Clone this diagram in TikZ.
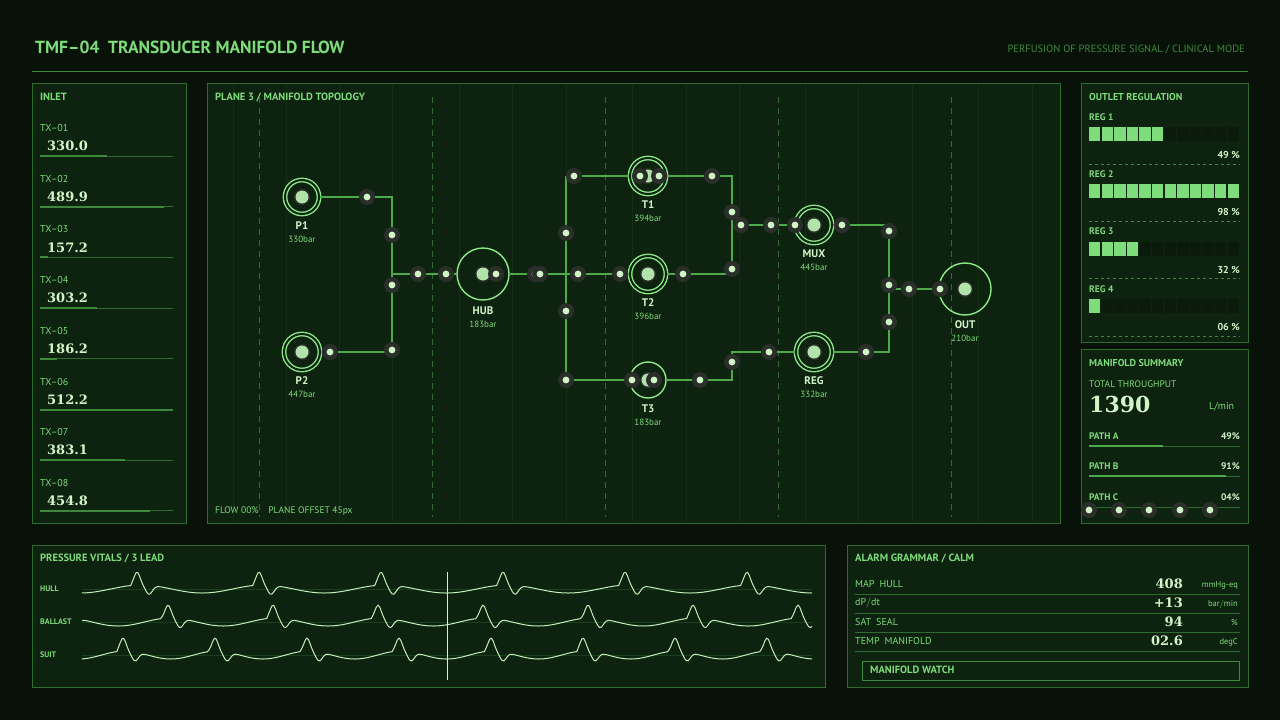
\documentclass[tikz,border=0pt]{standalone}
\usepackage{fontspec}
\setmainfont{PT Sans}
\newfontfamily\valfont{DejaVu Serif}
\usetikzlibrary{positioning,calc}

\definecolor{bgdark}{HTML}{081208}
\definecolor{panelfill}{HTML}{0E2210}
\definecolor{panelline}{HTML}{2F6A2F}
\definecolor{txtgreen}{HTML}{7EDC7A}
\definecolor{dimgreen}{HTML}{3F8A3F}
\definecolor{palegreen}{HTML}{D2F5C8}
\definecolor{wiregreen}{HTML}{4DAA4A}
\definecolor{ringgreen}{HTML}{8BEA86}
\definecolor{halo}{HTML}{2A2F2A}
\definecolor{cellon}{HTML}{7EDC7A}
\definecolor{celloff}{HTML}{0A1A0B}

\tikzset{
  panel/.style={draw=panelline, fill=panelfill, line width=1pt},
  hdr/.style={anchor=west, inner sep=0pt, text=txtgreen, font=\bfseries\fontsize{10.5}{10.5}\selectfont},
  lbl/.style={anchor=west, inner sep=0pt, text=txtgreen, font=\fontsize{10}{10}\selectfont},
  val/.style={anchor=west, inner sep=0pt, text=palegreen, font=\valfont\bfseries\fontsize{13}{13}\selectfont},
  wire/.style={draw=wiregreen, line width=1.3pt},
  dnode/.style={circle, draw=ringgreen, line width=1.4pt, double=panelfill, double distance=2pt, minimum size=#1, inner sep=0pt},
  snode/.style={circle, draw=ringgreen, line width=1.4pt, minimum size=#1, inner sep=0pt},
  nname/.style={text=palegreen, inner sep=0pt, font=\bfseries\fontsize{11}{11}\selectfont},
  nval/.style={text=txtgreen, inner sep=0pt, font=\fontsize{9}{9}\selectfont},
}
\newcommand{\core}[1]{\fill[halo] (#1) circle (8); \fill[palegreen!75!wiregreen] (#1) circle (6.5);}
\newcommand{\tap}[1]{\fill[halo] (#1) circle (8); \fill[palegreen] (#1) circle (3.4);}

\begin{document}
\begin{tikzpicture}[x=1pt,y=-1pt]
\fill[bgdark] (0,0) rectangle (1280,720);
\useasboundingbox (0,0) rectangle (1280,720);

% Header
\node[anchor=west, inner sep=0pt, text=txtgreen, font=\bfseries\fontsize{17.5}{17.5}\selectfont] (title) at (35,47) {TMF--04\enspace TRANSDUCER MANIFOLD FLOW};
\node[anchor=east, inner sep=0pt, text=dimgreen, font=\fontsize{10.5}{10.5}\selectfont] (mode) at (1245,49) {PERFUSION OF PRESSURE SIGNAL / CLINICAL MODE};
\draw[dimgreen, line width=0.8pt] (32,71) -- (1248,71);

% Inlet panel
\draw[panel] (32,83) rectangle (186,523);
\node[hdr] (inlet) at (40,97) {INLET};
\foreach \k/\v/\f in {1/330.0/0.50, 2/489.9/0.93, 3/157.2/0.06, 4/303.2/0.43, 5/186.2/0.13, 6/512.2/1.0, 7/383.1/0.64, 8/454.8/0.83}{
  \pgfmathsetmacro{\yy}{128+50.7*(\k-1)}
  \node[lbl] at (40,\yy) {TX--0\k};
  \node[val] at (47,\yy+18) {\v};
  \draw[panelline, line width=1pt] (40,\yy+28) -- (173,\yy+28);
  \draw[wiregreen!80!black, line width=2pt] (40,\yy+28) -- ({40+133*\f},\yy+28);
}

% Topology panel
\draw[panel] (207,83) rectangle (1060,523);
\foreach \gx in {233,286,339,392,459,512,566,632,686,739,805,858,912,978,1032}
  \draw[panelline!18!panelfill, line width=0.5pt] (\gx,84) -- (\gx,522);
\foreach \gx in {259,432,605,778,951}
  \draw[dimgreen!70!panelfill, dash pattern=on 6pt off 5pt, line width=0.8pt] (\gx,97) -- (\gx,517);
\node[hdr] (plane) at (215,97) {PLANE 3 / MANIFOLD TOPOLOGY};
\node[lbl, font=\fontsize{9.5}{9.5}\selectfont] (foot) at (215,511) {FLOW 00\%\quad PLANE OFFSET 45px};

% junctions
\coordinate (j1a) at (392,197); \coordinate (j1b) at (392,352); \coordinate (j1) at (392,274);
\coordinate (bt) at (566,176); \coordinate (bm) at (566,274); \coordinate (bb) at (566,380);
\coordinate (k1a) at (732,176); \coordinate (k1b) at (732,274); \coordinate (k1) at (732,225);
\coordinate (k2a) at (732,380); \coordinate (k2b) at (732,352);
\coordinate (m1a) at (889,225); \coordinate (m1b) at (889,352); \coordinate (m1) at (889,289);

% main nodes
\node[dnode=34pt] (p1) at (302,197) {};
\node[dnode=36pt] (p2) at (302,352) {};
\node[snode=52pt] (hub) at (483,274) {};
\node[dnode=36pt] (t1) at (648,176) {};
\node[dnode=36pt] (t2) at (648,274) {};
\node[snode=36pt] (t3) at (648,380) {};
\node[dnode=36pt] (mux) at (814,225) {};
\node[dnode=36pt] (reg) at (814,352) {};
\node[snode=52pt] (out) at (965,289) {};

% wires
\draw[wire] (p1) -- (j1a) -- (j1b) -- (p2);
\draw[wire] (j1) -- (hub) -- (bm);
\draw[wire] (bt) -- (bb);
\draw[wire] (bt) -- (t1) -- (k1a) -- (k1b) -- (t2) -- (bm);
\draw[wire] (bb) -- (t3) -- (k2a) -- (k2b) -- (reg) -- (m1b) -- (m1a) -- (mux) -- (k1);
\draw[wire] (m1) -- (out);

% cores
\foreach \n in {p1,p2,hub,t1,t2,t3,mux,reg,out}{\core{\n.center}}

% taps
\foreach \tx/\ty in {367/197,392/235,392/285,392/350,330/352,418/274,446/274,496/274,535/274,540/274,
  578/274,566/233,566/311,566/380,574/176,640/176,659/176,712/176,732/212,732/269,620/274,683/274,
  741/225,771/225,795/225,842/225,889/231,889/285,889/322,909/289,940/289,866/352,769/352,732/362,
  700/380,632/380,654/380}{\tap{\tx,\ty}}

% node labels
\foreach \n/\t/\v/\d in {p1/P1/330bar/29, p2/P2/447bar/29, hub/HUB/183bar/37, t1/T1/394bar/29, t2/T2/396bar/29,
  t3/T3/183bar/29, mux/MUX/445bar/29, reg/REG/332bar/29, out/OUT/210bar/36}{
  \node[nname] at ($(\n.center)+(0,\d)$) {\t};
  \node[nval] at ($(\n.center)+(0,\d+13)$) {\v};
}

% Outlet regulation
\draw[panel] (1081,83) rectangle (1248,342);
\node[hdr, font=\bfseries\fontsize{10}{10}\selectfont] (outlet) at (1089,97) {OUTLET REGULATION};
\foreach \k/\n/\p in {1/6/49, 2/12/98, 3/4/32, 4/1/06}{
  \pgfmathsetmacro{\yy}{117+57.3*(\k-1)}
  \node[lbl, font=\bfseries\fontsize{9.5}{9.5}\selectfont] at (1089,\yy) {REG \k};
  \foreach \c in {1,...,12}{
    \pgfmathsetmacro{\cx}{1089+12.6*(\c-1)}
    \ifnum\c>\n
      \fill[celloff] (\cx,\yy+10) rectangle ++(11.4,14);
    \else
      \fill[cellon] (\cx,\yy+10) rectangle ++(11.4,14);
    \fi
  }
  \node[lbl, anchor=east, text=palegreen, font=\bfseries\fontsize{10}{10}\selectfont] at (1240,\yy+38) {\p\ \%};
  \draw[dimgreen, dashed, line width=0.7pt] (1089,\yy+47) -- (1240,\yy+47);
}

% Manifold summary
\draw[panel] (1081,349) rectangle (1248,523);
\node[hdr, font=\bfseries\fontsize{10}{10}\selectfont] (summary) at (1089,363) {MANIFOLD SUMMARY};
\node[lbl, font=\fontsize{9.5}{9.5}\selectfont] (tot) at (1089,384) {TOTAL THROUGHPUT};
\node[val, font=\valfont\bfseries\fontsize{22}{22}\selectfont] (big) at (1089,404) {1390};
\node[lbl] (unit) at (1209,407) {L/min};
\foreach \pth/\pc/\yy in {A/49/436, B/91/466, C/04/497}{
  \node[lbl, font=\bfseries\fontsize{9.5}{9.5}\selectfont] at (1089,\yy) {PATH \pth};
  \node[lbl, anchor=east, text=palegreen, font=\bfseries\fontsize{9.5}{9.5}\selectfont] at (1240,\yy) {\pc\%};
  \draw[panelline, line width=1pt] (1089,\yy+10) -- (1240,\yy+10);
  \draw[wiregreen, line width=2pt] (1089,\yy+10) -- ({1089+151*\pc/100},\yy+10);
}
\foreach \dx in {1089,1119,1149,1180,1210}{\tap{\dx,510}}

% Pressure vitals
\draw[panel] (32,545) rectangle (825,687);
\node[hdr] (vitals) at (40,558) {PRESSURE VITALS / 3 LEAD};
\foreach \nm/\yy/\per/\off in {HULL/589/122/155, BALLAST/622/105/112, SUIT/655/92/105}{
  \node[lbl, font=\bfseries\fontsize{8}{8}\selectfont] at (40,\yy) {\nm};
  \draw[panelline!40!panelfill, line width=0.4pt] (82,\yy) -- (812,\yy);
  \draw[palegreen!80!txtgreen, line width=1pt, line join=round]
    plot[domain=82:812, samples=420]
    (\x, {\yy - 4*sin(mod(\x-\off+1000,\per)/\per*360+60)
      - 13*exp(max(-30,-((mod(\x-\off+1000,\per)-6)^2)/18))
      + 9*exp(max(-30,-((mod(\x-\off+1000,\per)-18)^2)/22))});
}
\draw[palegreen, line width=1pt] (447,572) -- (447,680);

% Alarm grammar
\draw[panel] (847,545) rectangle (1248,687);
\node[hdr] (alarm) at (855,558) {ALARM GRAMMAR / CALM};
\foreach \nm/\v/\u/\yy in {{MAP\enspace HULL}/408/{mmHg-eq}/584, {dP$/$dt}/{+13}/{bar$/$min}/603, {SAT\enspace SEAL}/94/\%/622, {TEMP\enspace MANIFOLD}/02.6/degC/641}{
  \node[lbl] at (855,\yy) {\nm};
  \node[val, anchor=east] at (1183,\yy) {\v};
  \node[lbl, anchor=east, font=\fontsize{8.5}{8.5}\selectfont] at (1238,\yy+1) {\u};
  \draw[panelline, line width=0.5pt] (855,\yy+10) -- (1240,\yy+10);
}
\draw[dimgreen, line width=0.8pt] (862,661) rectangle (1239,680);
\node[hdr] (watch) at (870,670) {MANIFOLD WATCH};
\end{tikzpicture}
\end{document}
